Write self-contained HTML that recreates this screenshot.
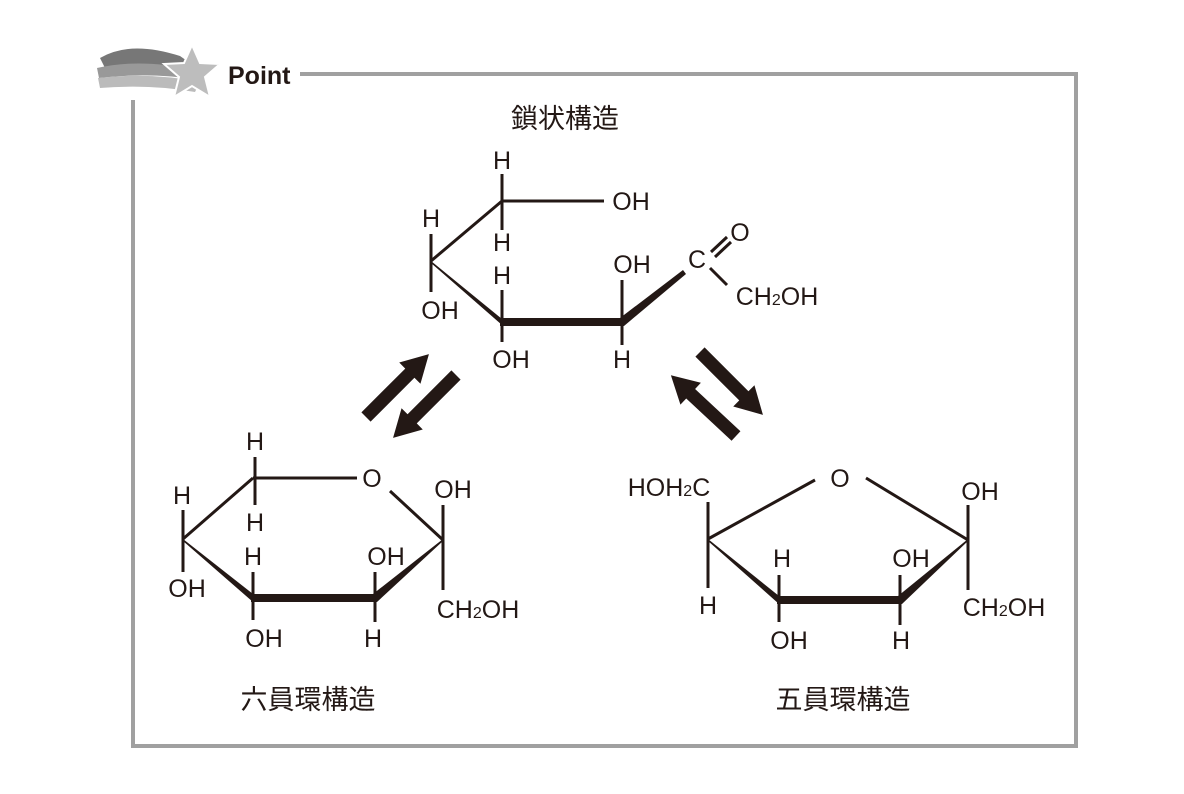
<!DOCTYPE html>
<html><head><meta charset="utf-8"><style>
html,body{margin:0;padding:0;background:#fff}
svg{display:block}
text{font-family:"Liberation Sans","Noto Sans CJK JP",sans-serif;fill:#231815}
.c{font-size:25px;text-anchor:middle}
.j{font-size:27px;text-anchor:middle}
</style></head><body>
<svg width="1184" height="794" viewBox="0 0 1184 794" xmlns="http://www.w3.org/2000/svg">
<defs>
<polygon id="ar" points="0,-6.5 62,-6.5 62,-15 89,0 62,15 62,6.5 0,6.5"/>
</defs>
<!-- frame -->
<path d="M300 74 H1076 V746 H133 V100" fill="none" stroke="#a0a0a0" stroke-width="4"/>
<!-- logo -->
<path d="M100 58 Q130 40 180 56 L200 70 Q150 60 105 68 Z" fill="#777"/>
<path d="M97 68 Q140 58 195 70 L200 80 Q150 72 99 78 Z" fill="#999"/>
<path d="M98 78 Q150 72 200 82 L195 92 Q150 84 100 88 Z" fill="#bbb"/>
<polygon points="192,45 200,63 220,64 205,77 210,97 192,86 174,97 179,77 164,64 184,63" fill="#bdbdbd" stroke="#fff" stroke-width="2"/>
<text x="228" y="84" style="font-size:25px;font-weight:bold" fill="#231815">Point</text>

<g stroke="#231815" stroke-width="3" fill="none" stroke-linecap="butt">
<line x1="502" y1="174" x2="502" y2="230"/>
<line x1="502" y1="201" x2="604" y2="201"/>
<line x1="502" y1="201" x2="431" y2="261"/>
<line x1="431" y1="234" x2="431" y2="292"/>
<line x1="502" y1="290" x2="502" y2="342"/>
<line x1="622" y1="280" x2="622" y2="345"/>
<line x1="711" y1="252" x2="727" y2="237"/>
<line x1="715" y1="257" x2="731" y2="242"/>
<line x1="710" y1="268" x2="727" y2="285"/>
<line x1="255" y1="457" x2="255" y2="505"/>
<line x1="253" y1="478" x2="357" y2="478"/>
<line x1="253" y1="478" x2="183" y2="539"/>
<line x1="183" y1="510" x2="183" y2="572"/>
<line x1="253" y1="572" x2="253" y2="620"/>
<line x1="375" y1="572" x2="375" y2="622"/>
<line x1="390" y1="491" x2="443" y2="540"/>
<line x1="443" y1="505" x2="443" y2="590"/>
<line x1="708" y1="502" x2="708" y2="588"/>
<line x1="708" y1="539" x2="815" y2="480"/>
<line x1="866" y1="478" x2="968" y2="540"/>
<line x1="968" y1="505" x2="968" y2="590"/>
<line x1="779" y1="575" x2="779" y2="622"/>
<line x1="900" y1="575" x2="900" y2="625"/>
</g>
<g fill="#231815">
<polygon points="431,261 502,319 502,325 431,263"/>
<rect x="500" y="318" width="124" height="8"/>
<polygon points="620,318 683,270 686,274 624,326"/>
<polygon points="183,539 253,594 253,602 183,541"/>
<rect x="251" y="594" width="126" height="8"/>
<polygon points="373,594 443,539 443,541 377,602"/>
<polygon points="708,539 779,596 779,604 708,541"/>
<rect x="777" y="596" width="125" height="8"/>
<polygon points="898,596 968,539 968,541 902,604"/>
<use href="#ar" transform="translate(366,417) rotate(-45)"/>
<use href="#ar" transform="translate(456,375) rotate(135)"/>
<use href="#ar" transform="translate(736,436) rotate(-137)"/>
<use href="#ar" transform="translate(700,352) rotate(45)"/>
</g>
<text class="c" x="502" y="169">H</text>
<text class="c" x="631" y="210">OH</text>
<text class="c" x="502" y="251">H</text>
<text class="c" x="431" y="227">H</text>
<text class="c" x="440" y="319">OH</text>
<text class="c" x="502" y="284">H</text>
<text class="c" x="511" y="368">OH</text>
<text class="c" x="632" y="273">OH</text>
<text class="c" x="622" y="368">H</text>
<text class="c" x="697" y="268">C</text>
<text class="c" x="740" y="241">O</text>
<text class="c" x="777" y="305">CH<tspan style="font-size:16px">2</tspan>OH</text>
<text class="j" x="565" y="128">鎖状構造</text>
<text class="c" x="255" y="450">H</text>
<text class="c" x="255" y="531">H</text>
<text class="c" x="372" y="487">O</text>
<text class="c" x="182" y="504">H</text>
<text class="c" x="187" y="597">OH</text>
<text class="c" x="253" y="565">H</text>
<text class="c" x="264" y="647">OH</text>
<text class="c" x="386" y="565">OH</text>
<text class="c" x="373" y="647">H</text>
<text class="c" x="453" y="498">OH</text>
<text class="c" x="478" y="618">CH<tspan style="font-size:16px">2</tspan>OH</text>
<text class="j" x="308" y="709">六員環構造</text>
<text class="c" x="669" y="496">HOH<tspan style="font-size:16px">2</tspan>C</text>
<text class="c" x="840" y="487">O</text>
<text class="c" x="708" y="614">H</text>
<text class="c" x="782" y="567">H</text>
<text class="c" x="789" y="649">OH</text>
<text class="c" x="911" y="567">OH</text>
<text class="c" x="901" y="649">H</text>
<text class="c" x="980" y="500">OH</text>
<text class="c" x="1004" y="616">CH<tspan style="font-size:16px">2</tspan>OH</text>
<text class="j" x="843" y="709">五員環構造</text>
</svg>
</body></html>
